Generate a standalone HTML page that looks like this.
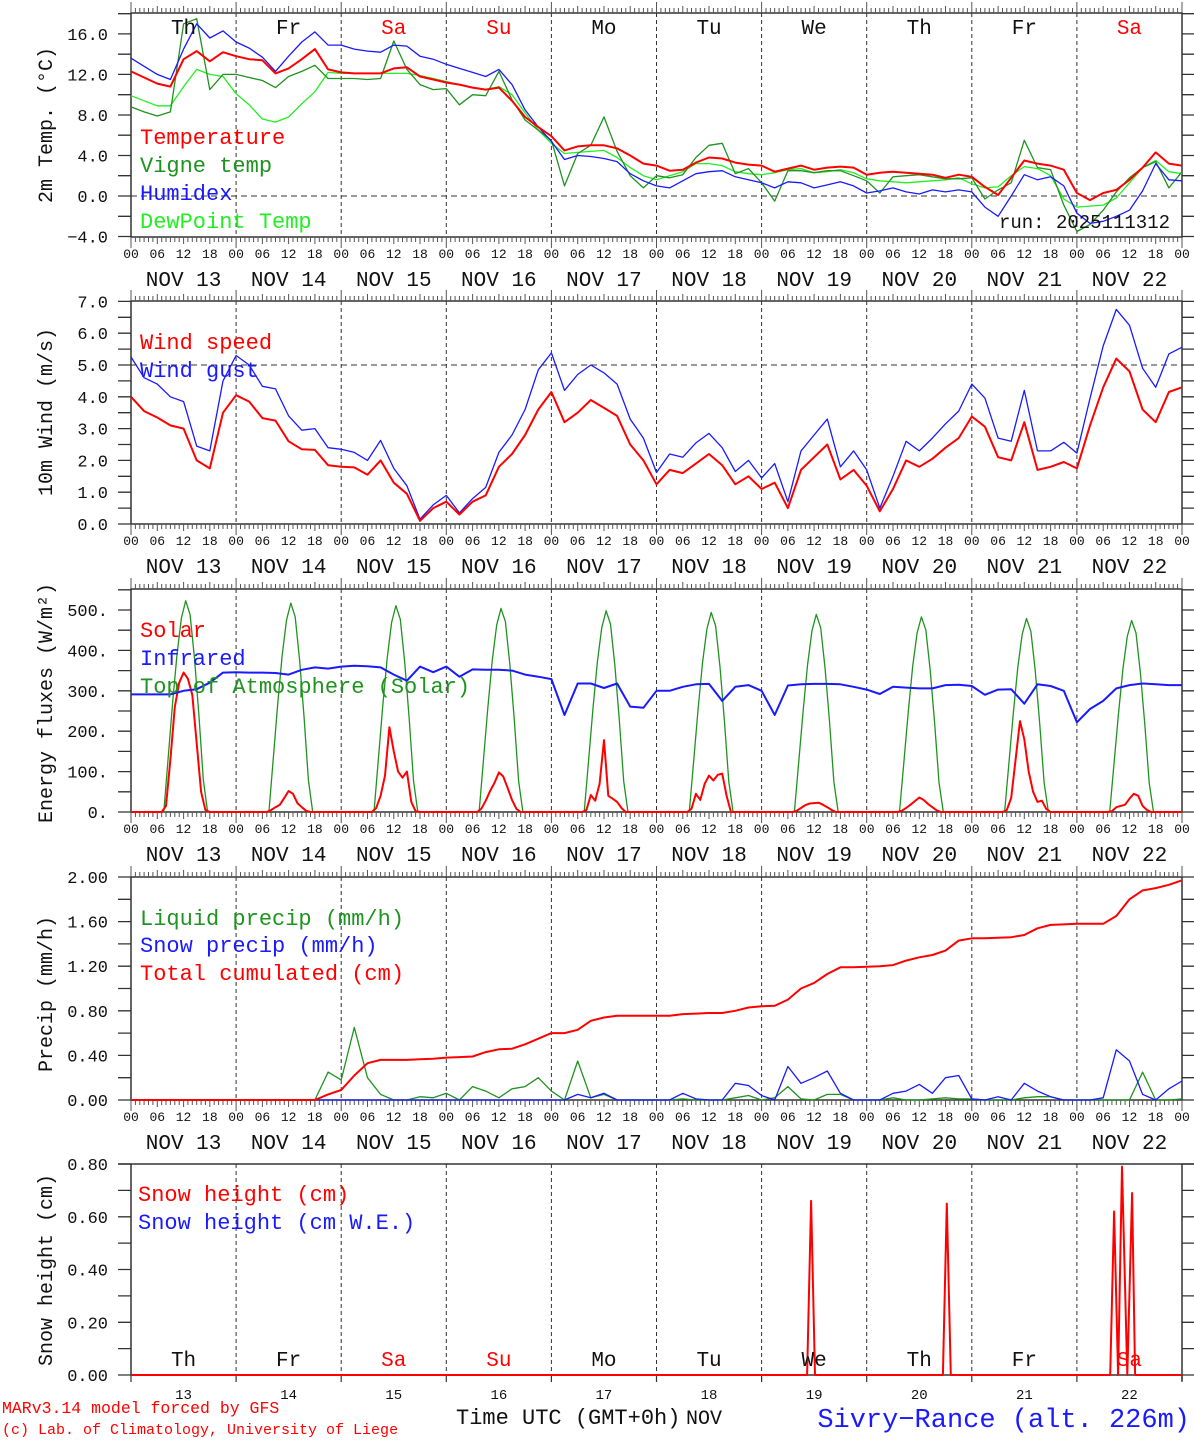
<!DOCTYPE html>
<html><head><meta charset="utf-8">
<style>
body{margin:0;background:#fff}
svg{display:block}
text{font-family:"Liberation Mono",monospace}
</style></head>
<body>
<svg id="chart" width="1194" height="1440" viewBox="0 0 1194 1440"></svg>
<script>
// ---------- data (3-hourly, h = 0..240 from NOV 13 00 UTC) ----------
const hours=[];for(let h=0;h<=240;h+=3)hours.push(h);
const dayLabels=["Th","Fr","Sa","Su","Mo","Tu","We","Th","Fr","Sa"];
const dateLabels=["NOV 13","NOV 14","NOV 15","NOV 16","NOV 17","NOV 18","NOV 19","NOV 20","NOV 21","NOV 22"];
const dayNums=["13","14","15","16","17","18","19","20","21","22"];
const hourTickLabels=["00","06","12","18"];

const temperature=[12.3,11.7,11.1,10.8,13.5,14.3,13.3,14.2,13.8,13.5,
 13.4,12.1,12.6,13.5,14.5,12.5,12.2,12.1,12.1,12.1,
 12.6,12.7,11.8,11.5,11.2,11.0,10.7,10.5,10.7,9.4,
 7.8,6.8,5.9,4.5,4.9,5.0,5.0,4.7,4.0,3.2,
 3.0,2.5,2.6,3.3,3.8,3.7,3.3,3.1,3.0,2.4,
 2.7,3.0,2.6,2.8,2.9,2.8,2.1,2.3,2.4,2.3,
 2.2,2.1,1.8,2.1,1.9,0.9,0.1,1.8,3.5,3.2,
 3.0,2.6,0.3,-0.4,0.3,0.6,1.6,2.8,4.3,3.2,3.0];
const vigneTemp=[8.8,8.3,7.9,8.3,17.0,17.5,10.5,12.0,12.0,11.7,
 11.4,10.7,11.8,12.3,12.9,11.6,11.6,11.6,11.5,11.6,
 15.3,12.5,11.0,10.5,10.6,9.0,10.0,9.9,12.3,9.5,
 7.5,6.5,5.5,1.0,4.2,5.0,7.8,4.4,2.0,0.8,
 2.0,1.8,2.1,3.8,5.0,5.2,2.2,2.7,1.3,-0.5,
 2.5,2.5,2.3,2.5,2.5,2.0,1.5,0.3,1.9,2.0,
 2.1,1.9,1.7,1.7,1.8,-0.3,0.6,1.3,5.5,2.8,
 2.6,-0.9,-3.5,-2.8,-1.4,0.4,1.8,2.8,3.4,0.8,2.4];
const humidex=[13.6,12.8,12.0,11.5,14.5,17.0,15.6,16.3,15.2,14.6,
 13.7,12.3,13.8,15.2,16.2,14.9,14.9,14.5,14.3,14.2,
 14.9,14.8,13.8,13.5,13.0,12.6,12.2,11.8,12.5,11.0,
 8.5,6.8,5.4,3.6,4.0,3.9,3.7,3.4,2.2,1.5,
 1.0,0.8,1.5,2.2,2.4,2.5,1.9,1.6,1.3,0.8,
 1.4,1.3,0.8,1.1,1.4,1.0,0.3,0.5,0.8,0.4,
 0.2,0.6,0.4,0.6,0.4,-1.1,-2.0,0.0,2.1,1.6,
 1.9,1.0,-1.7,-2.7,-2.5,-2.0,-1.4,0.5,3.2,1.6,1.5];
const dewPoint=[9.9,9.4,8.9,8.9,10.8,12.5,12.0,11.8,10.1,9.0,
 7.6,7.3,7.8,9.1,10.3,12.2,12.1,12.1,12.1,12.1,
 12.1,12.1,11.9,11.6,11.3,11.0,10.7,10.5,10.8,10.0,
 8.2,6.5,5.2,4.2,4.3,4.4,4.5,3.8,2.8,2.0,
 1.6,2.0,2.4,3.2,3.2,3.0,2.4,2.2,2.1,2.3,
 2.6,2.7,2.3,2.4,2.6,2.3,1.7,1.5,1.4,1.3,
 1.4,1.5,1.6,1.8,1.2,0.8,0.9,2.0,2.9,2.7,
 2.0,-0.3,-1.1,-1.0,-0.9,-0.2,1.3,2.8,3.5,2.4,2.2];

const windSpeed=[4.0,3.55,3.35,3.1,3.0,2.0,1.75,3.5,4.05,3.85,
 3.33,3.25,2.6,2.35,2.33,1.85,1.8,1.78,1.55,2.0,
 1.3,0.95,0.1,0.5,0.7,0.3,0.7,0.9,1.8,2.2,
 2.8,3.6,4.15,3.2,3.5,3.9,3.65,3.4,2.5,2.0,
 1.25,1.7,1.6,1.9,2.2,1.85,1.25,1.5,1.1,1.3,
 0.5,1.7,2.1,2.5,1.4,1.7,1.2,0.4,1.1,2.0,
 1.8,2.05,2.4,2.7,3.38,3.06,2.1,2.0,3.2,1.7,
 1.8,1.95,1.75,3.1,4.3,5.2,4.8,3.6,3.2,4.15,4.3];
const windGust=[5.25,4.6,4.4,4.0,3.85,2.45,2.3,4.5,5.3,5.0,
 4.33,4.25,3.4,2.95,3.0,2.4,2.35,2.25,2.0,2.63,
 1.75,1.2,0.15,0.6,0.9,0.35,0.8,1.15,2.25,2.8,
 3.6,4.85,5.38,4.2,4.7,5.0,4.75,4.4,3.3,2.7,
 1.62,2.2,2.1,2.55,2.85,2.4,1.65,2.0,1.45,1.9,
 0.7,2.3,2.8,3.3,1.8,2.3,1.7,0.5,1.5,2.6,
 2.3,2.7,3.15,3.55,4.4,3.96,2.7,2.6,4.2,2.3,
 2.3,2.57,2.23,3.95,5.6,6.75,6.25,4.9,4.3,5.35,5.56];

const infrared=[291,291,291,291,300,304,320,345,346,345,
 345,344,340,352,358,355,360,362,361,358,
 340,325,360,346,360,335,353,352,352,350,
 340,335,329,240,318,318,307,318,261,258,
 300,300,310,316,317,275,310,314,300,240,
 313,316,317,317,316,310,303,292,310,308,
 306,306,314,315,312,290,303,304,268,316,
 312,300,222,255,275,306,314,318,316,314,314];
// hourly daytime segments
const solarStart=[7,31,55,79,103,127,151,175,199,223];
const solarVals=[[0,15,130,260,320,345,330,290,170,50,5,0],
 [0,5,12,18,35,52,45,22,12,3,0],
 [0,10,40,90,210,150,100,85,100,25,2,0],
 [0,8,28,52,72,98,88,60,30,8,0],
 [0,5,42,28,70,178,40,33,25,10,0],
 [0,8,45,30,70,90,78,92,95,40,0],
 [0,3,10,17,21,22,23,18,12,5,0],
 [0,3,10,18,27,36,30,20,12,4,0],
 [0,5,35,130,225,180,100,50,25,28,8,0],
 [0,2,12,15,18,33,45,40,15,5,0]];
const toaStart=[7.5,31.5,55.5,79.5,103.5,127.5,151.5,175.5,199.5,223.5];
const toaVals=[[0,135,270,390,480,523,488,380,240,80,0],
 [0,133,267,386,475,517,483,376,237,79,0],
 [0,132,264,381,469,511,477,371,234,78,0],
 [0,130,260,376,463,504,471,366,231,77,0],
 [0,128,257,372,457,498,465,362,228,76,0],
 [0,127,255,369,453,494,461,359,226,75,0],
 [0,126,252,365,449,489,456,355,224,74,0],
 [0,124,249,361,443,483,451,351,221,73,0],
 [0,123,247,358,440,479,447,348,219,73,0],
 [0,122,244,354,435,474,443,344,217,72,0]];

const liquidPrecip=[0,0,0,0,0,0,0,0,0,0,0,0,0,0,0,
 0.25,0.18,0.65,0.2,0.05,0,0,0.03,0.02,0.06,
 0,0.12,0.08,0.02,0.1,0.12,0.2,0.08,0,0.35,
 0.02,0.05,0,0,0,0,0,0.01,0,0,
 0,0.02,0.04,0,0.02,0.12,0.01,0,0.05,0.05,
 0,0,0,0.02,0,0,0.01,0.02,0.01,0.01,
 0,0,0,0.02,0.03,0.03,0,0,0,0,
 0,0,0.25,0,0,0.01];
const snowPrecip=[0,0,0,0,0,0,0,0,0,0,0,0,0,0,0,0,0,0,0,0,0,0,0,0,0,0,0,0,0,0,0,0,0,0,
 0.05,0.02,0.06,0,0,0,0,0,0.06,0.01,
 0,0,0.15,0.13,0.04,0,0.30,0.15,0.2,0.26,
 0.06,0,0,0,0.06,0.08,0.14,0.06,0.2,0.22,
 0.01,0,0.03,0,0.15,0.08,0.03,0,0,0,
 0.02,0.45,0.35,0.05,0,0.1,0.17];
const totalCumul=[0,0,0,0,0,0,0,0,0,0,0,0,0,0,0,
 0.05,0.09,0.22,0.33,0.36,0.36,0.36,0.365,0.37,0.38,
 0.385,0.39,0.43,0.455,0.46,0.50,0.55,0.60,0.60,0.63,
 0.71,0.74,0.755,0.755,0.755,0.755,0.755,0.77,0.775,0.78,
 0.78,0.80,0.83,0.84,0.845,0.90,1.00,1.05,1.13,1.19,
 1.19,1.195,1.20,1.21,1.25,1.28,1.30,1.34,1.43,1.45,
 1.45,1.455,1.46,1.48,1.54,1.57,1.575,1.58,1.58,1.58,
 1.65,1.80,1.88,1.90,1.93,1.97];

const snowHeightHours=[0,154.4,155.3,156.2,185.4,186.3,187.2,223.6,224.5,225.4,226.3,227.5,228.6,229.3,240];
const snowHeightVals=[0,0,0.66,0,0,0.65,0,0,0.62,0,0.79,0,0.69,0,0];

// ---------- drawing ----------
const NS="http://www.w3.org/2000/svg";
const svg=document.getElementById("chart");
function mk(tag,attrs,parent){const e=document.createElementNS(NS,tag);for(const k in attrs)e.setAttribute(k,attrs[k]);(parent||svg).appendChild(e);return e;}
const X0=131,X1=1182;
function xS(h){return X0+h*(X1-X0)/240;}
const RED="#ff0000",DGREEN="#1f931f",BLUE="#1a1aff",LIME="#22ee22";

const panels=[
 {name:"temperature",top:13,bot:237,yf:v=>196-10.13*v,ticks:[-4,-2,0,2,4,6,8,10,12,14,16,18],labels:[[16,"16.0"],[12,"12.0"],[8,"8.0"],[4,"4.0"],[0,"0.0"],[-4,"\u22124.0"]],title:"2m Temp. (\u00B0C)",tc:125},
 {name:"wind",top:301,bot:524,yf:v=>524-31.8*v,ticks:[0,.5,1,1.5,2,2.5,3,3.5,4,4.5,5,5.5,6,6.5,7],labels:[[7,"7.0"],[6,"6.0"],[5,"5.0"],[4,"4.0"],[3,"3.0"],[2,"2.0"],[1,"1.0"],[0,"0.0"]],title:"10m Wind (m/s)",tc:412},
 {name:"energy",top:589,bot:812,yf:v=>812-0.404*v,ticks:[0,50,100,150,200,250,300,350,400,450,500,550],labels:[[500,"500."],[400,"400."],[300,"300."],[200,"200."],[100,"100."],[0,"0."]],title:"Energy fluxes (W/m\u00B2)",tc:703},
 {name:"precip",top:877,bot:1100,yf:v=>1100-111.5*v,ticks:[0,.2,.4,.6,.8,1,1.2,1.4,1.6,1.8,2],labels:[[2,"2.00"],[1.6,"1.60"],[1.2,"1.20"],[.8,"0.80"],[.4,"0.40"],[0,"0.00"]],title:"Precip (mm/h)",tc:994},
 {name:"snow-height",top:1164,bot:1375,yf:v=>1375-263.75*v,ticks:[0,.1,.2,.3,.4,.5,.6,.7,.8],labels:[[.8,"0.80"],[.6,"0.60"],[.4,"0.40"],[.2,"0.20"],[0,"0.00"]],title:"Snow height (cm)",tc:1270}
];

panels.forEach((p,pi)=>{
 const g=mk("g",{});
 
 
 // day dashed lines
 for(let k=1;k<10;k++){
  const l=mk("line",{x1:xS(24*k),x2:xS(24*k),y1:p.top,y2:p.bot,stroke:"#333","stroke-width":1,"stroke-dasharray":"4 3"},g);
  
  
 }
 // y ticks left & right
 let d="";
 p.ticks.forEach(v=>{const y=p.yf(v).toFixed(1);d+=`M118 ${y}H${X0}M${X1} ${y}H1194`;});
 const yt=mk("path",{d:d,stroke:"#333","stroke-width":1.3,fill:"none"},g);
 
 
 p.labels.forEach(([v,t])=>{
  const tx=mk("text",{x:108,y:p.yf(v)+6,"text-anchor":"end","font-size":17,fill:"#111"},g);
  tx.textContent=t;
  
  
 });
 const ti=mk("text",{x:0,y:0,"text-anchor":"middle","font-size":20,fill:"#111",transform:`translate(52,${p.tc}) rotate(-90)`},g);
 ti.textContent=p.title;
 
 
 if(pi<4){
  // frame
  const fr=mk("rect",{x:X0,y:p.top,width:X1-X0,height:p.bot-p.top,fill:"none",stroke:"#333","stroke-width":1.5},g);
  
  
  let td="";
  for(let h=0;h<=240;h++){const x=xS(h).toFixed(1);const L=h%24==0?11:(h%6==0?7:5);td+=`M${x} ${p.top}v${-L}M${x} ${p.bot}v${L}`;}
  const tk=mk("path",{d:td,stroke:"#555","stroke-width":1,fill:"none"},g);
  
  
  for(let i=0;i<=40;i++){
   const t=mk("text",{x:xS(i*6),y:p.bot+21,"text-anchor":"middle","font-size":13,fill:"#111"},g);
   t.textContent=hourTickLabels[i%4];
   
   
  }
  dateLabels.forEach((s,k)=>{
   const t=mk("text",{x:xS(24*k+12),y:p.bot+49,"text-anchor":"middle","font-size":21,fill:"#111"},g);
   t.textContent=s;
   
   
  });
 } else {
  const a=mk("path",{d:`M118 ${p.top}H1194M${X0} ${p.top}V${p.bot}M${X1} ${p.top}V${p.bot+6}M${X0} ${p.bot}H${X1}`,stroke:"#333","stroke-width":1.5,fill:"none"},g);
  
  
  let td="";for(let k=0;k<=10;k++){td+=`M${xS(24*k).toFixed(1)} ${p.bot}v7`;}
  const tk=mk("path",{d:td,stroke:"#333","stroke-width":1.2,fill:"none"},g);
  
  
  dayNums.forEach((s,k)=>{
   const t=mk("text",{x:xS(24*k+12),y:p.bot+24,"text-anchor":"middle","font-size":14,fill:"#111"},g);
   t.textContent=s;
   
   
  });
 }
 p.g=g;
});

function seriesLine(p,hs,vals,color,w,name){
 const pts=vals.map((v,i)=>xS(hs[i]).toFixed(1)+","+p.yf(v).toFixed(1)).join(" ");
 const l=mk("polyline",{points:pts,fill:"none",stroke:color,"stroke-width":w,"stroke-linejoin":"round"},p.g);
 
 
 return l;
}
function segLine(p,starts,segs,color,w,name){
 const hs=[0],vs=[0];
 segs.forEach((s,k)=>s.forEach((v,j)=>{hs.push(starts[k]+j);vs.push(v);}));
 hs.push(240);vs.push(0);
 return seriesLine(p,hs,vs,color,w,name);
}
function legend(p,x,y,txt,color){
 const t=mk("text",{x:x,y:y,"font-size":22,fill:color},p.g);
 t.textContent=txt;
 
 
}
function hline(p,v,name){
 const l=mk("line",{x1:X0,x2:X1,y1:p.yf(v),y2:p.yf(v),stroke:"#333","stroke-width":1,"stroke-dasharray":"6 4"},p.g);
 
 
}

// panel 1
const P1=panels[0];
hline(P1,0,'zero-line');
seriesLine(P1,hours,dewPoint,LIME,1.3,'dewpoint-line');
seriesLine(P1,hours,vigneTemp,DGREEN,1.3,'vigne-temp-line');
seriesLine(P1,hours,humidex,BLUE,1.3,'humidex-line');
seriesLine(P1,hours,temperature,RED,2,'temperature-line');
legend(P1,140,144,"Temperature",RED);
legend(P1,140,172,"Vigne temp",DGREEN);
legend(P1,140,200,"Humidex",BLUE);
legend(P1,140,228,"DewPoint Temp",LIME);
dayLabels.forEach((s,k)=>{
 const t=mk("text",{x:xS(24*k+12),y:34,"text-anchor":"middle","font-size":21,fill:(s=="Sa"||s=="Su")?RED:"#111"},P1.g);
 t.textContent=s;
 
 
});
{const t=mk("text",{x:1170,y:228,"text-anchor":"end","font-size":19,fill:"#111"},P1.g);
t.textContent="run: 2025111312";

}

// panel 2
const P2=panels[1];
hline(P2,5,'reference-line-5');
seriesLine(P2,hours,windGust,BLUE,1.3,'wind-gust-line');
seriesLine(P2,hours,windSpeed,RED,2,'wind-speed-line');
legend(P2,140,349,"Wind speed",RED);
legend(P2,140,377,"Wind gust",BLUE);

// panel 3
const P3=panels[2];
segLine(P3,toaStart,toaVals,DGREEN,1.3,'toa-solar-line');
segLine(P3,solarStart,solarVals,RED,2,'solar-line');
seriesLine(P3,hours,infrared,BLUE,2,'infrared-line');
legend(P3,140,637,"Solar",RED);
legend(P3,140,665,"Infrared",BLUE);
legend(P3,140,693,"Top of Atmosphere (Solar)",DGREEN);

// panel 4
const P4=panels[3];
seriesLine(P4,hours,liquidPrecip,DGREEN,1.3,'liquid-precip-line');
seriesLine(P4,hours,snowPrecip,BLUE,1.3,'snow-precip-line');
seriesLine(P4,hours,totalCumul,RED,2,'total-cumulated-line');
legend(P4,140,925,"Liquid precip (mm/h)",DGREEN);
legend(P4,140,952,"Snow precip (mm/h)",BLUE);
legend(P4,140,980,"Total cumulated (cm)",RED);

// panel 5
const P5=panels[4];
seriesLine(P5,snowHeightHours,snowHeightVals,RED,2,'snow-height-line');
legend(P5,138,1201,"Snow height (cm)",RED);
legend(P5,138,1229,"Snow height (cm W.E.)",BLUE);
dayLabels.forEach((s,k)=>{
 const t=mk("text",{x:xS(24*k+12),y:1366,"text-anchor":"middle","font-size":21,fill:(s=="Sa"||s=="Su")?RED:"#111"},P5.g);
 t.textContent=s;
 
 
});

// footer
function ftxt(x,y,s,size,color,name,anchor){
 const t=mk("text",{x:x,y:y,"font-size":size,fill:color,"text-anchor":anchor||"start"});
 t.textContent=s;
 
 
}
ftxt(2,1413,"MARv3.14 model forced by GFS",16.5,RED,'model-credit');
ftxt(2,1434,"(c) Lab. of Climatology, University of Liege",15,RED,'lab-credit');
ftxt(456,1424,"Time UTC (GMT+0h)",22,"#111",'x-axis-title');
ftxt(686,1424,"NOV",20,"#111",'x-axis-month');
ftxt(1190,1427,"Sivry\u2212Rance (alt. 226m)",27,BLUE,'station-name',"end");
</script>
</body></html>
